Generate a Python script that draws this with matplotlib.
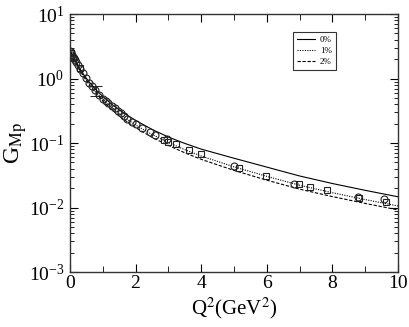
import matplotlib
matplotlib.use("Agg")
import matplotlib.pyplot as plt
from matplotlib.ticker import MultipleLocator, LogLocator, NullFormatter

plt.rcParams['font.family'] = ['Liberation Serif', 'DejaVu Serif']
plt.rcParams['mathtext.fontset'] = 'stix'

# model curves
q2_curve = [0, 0.05, 0.1, 0.2, 0.3, 0.4, 0.5, 0.6, 0.8, 1.0, 1.25, 1.5, 1.75,
            2, 2.5, 3, 3.5, 4, 5, 6, 7, 8, 9, 10]
gmp_0 = [2.79, 2.44, 2.16, 1.73, 1.42, 1.19, 1.01, 0.87, 0.664, 0.528, 0.409,
         0.327, 0.269, 0.225, 0.163, 0.124, 0.0988, 0.0806, 0.0582, 0.0424,
         0.0309, 0.0236, 0.0185, 0.0147]
gmp_1 = [2.79, 2.43, 2.14, 1.70, 1.38, 1.14, 0.96, 0.82, 0.615, 0.48, 0.365,
         0.287, 0.232, 0.191, 0.136, 0.102, 0.0790, 0.0630, 0.0428, 0.0305,
         0.0222, 0.0170, 0.0133, 0.0106]
gmp_2 = [2.79, 2.42, 2.13, 1.68, 1.36, 1.115, 0.93, 0.79, 0.587, 0.451, 0.339,
         0.264, 0.212, 0.174, 0.123, 0.092, 0.0707, 0.0560, 0.0377, 0.0266,
         0.0193, 0.0148, 0.0116, 0.0092]

# data points: circles
q2_circ = [0.0, 0.02, 0.05, 0.08, 0.12, 0.15, 0.2, 0.25, 0.32, 0.39, 0.5, 0.59,
           0.68, 0.76, 0.9, 1.0, 1.1, 1.17, 1.27, 1.37, 1.46, 1.55, 1.65,
           1.75, 1.88, 2.0, 2.2, 2.44, 2.6, 2.95, 5.0, 6.84, 8.77, 9.58]
g_circ = [2.72, 2.6, 2.35, 2.18, 2.05, 1.94, 1.78, 1.62, 1.4, 1.2, 1.02, 0.86,
          0.76, 0.66, 0.56, 0.49, 0.45, 0.42, 0.38, 0.344, 0.315, 0.288, 0.262,
          0.24, 0.215, 0.197, 0.170, 0.148, 0.135, 0.115, 0.044, 0.0229,
          0.0146, 0.0134]

# data points: squares
q2_sq = [0.03, 0.1, 0.3, 2.87, 3.0, 3.22, 3.64, 4.0, 5.16, 5.98, 6.98, 7.33,
         7.84, 8.81, 9.64]
g_sq = [2.5, 2.1, 1.45, 0.111, 0.105, 0.095, 0.078, 0.067, 0.0416, 0.031,
        0.0229, 0.021, 0.0185, 0.0143, 0.0120]

# point with large error bar
q2_err = [0.8]
g_err = [0.64]
g_err_lo = [0.105]
g_err_hi = [0.125]

fig = plt.figure(figsize=(4.09, 3.27), dpi=100)
ax = fig.add_axes([0.171, 0.168, 0.802, 0.789])

ax.plot(q2_curve, gmp_0, color='black', lw=0.8, label='0%')
ax.plot(q2_curve, gmp_1, color='black', lw=0.8, ls=(0, (1, 1.2)), label='1%')
ax.plot(q2_curve, gmp_2, color='black', lw=0.8, ls=(0, (3, 1.5)), label='2%')

ax.errorbar(q2_err, g_err, yerr=[g_err_lo, g_err_hi], fmt='none',
            ecolor='black', elinewidth=0.6, capsize=4, capthick=0.6)
ax.plot(q2_circ, g_circ, 'o', mfc='none', mec='#222222', mew=0.8, ms=5,
        ls='none')
ax.plot(q2_sq, g_sq, 's', mfc='none', mec='#222222', mew=0.8, ms=4.5,
        ls='none')

ax.set_yscale('log')
ax.set_xlim(0, 10)
ax.set_ylim(1e-3, 1e1)
ax.xaxis.set_major_locator(MultipleLocator(2))
ax.xaxis.set_minor_locator(MultipleLocator(1))
ax.yaxis.set_major_locator(LogLocator(base=10, numticks=10))
ax.yaxis.set_minor_locator(LogLocator(base=10, subs=range(2, 10), numticks=20))
ax.yaxis.set_minor_formatter(NullFormatter())
ax.tick_params(which='both', direction='in', top=True, right=True,
               labelsize=14)
ax.tick_params(axis='x', pad=2)
ax.tick_params(axis='y', pad=4)
ax.tick_params(which='major', length=6, width=0.8)
ax.tick_params(which='minor', length=3, width=0.6)
ax.tick_params(axis='x', which='minor', length=4)
for s in ax.spines.values():
    s.set_linewidth(1.0)
    s.set_color('#333333')

ax.set_xlabel(r'Q$^2$(GeV$^2$)', fontsize=15, labelpad=3)
ax.set_ylabel(r'G$_{\rm Mp}$', fontsize=17, labelpad=0)

leg = ax.legend(loc='upper left', bbox_to_anchor=(0.68, 0.93), fontsize=6.5,
                frameon=True, fancybox=False, handlelength=2.0,
                borderaxespad=0, borderpad=0.4, labelspacing=0.3,
                handletextpad=0.6)
leg.get_frame().set_edgecolor('black')
leg.get_frame().set_linewidth(0.8)

fig.savefig('out.png', dpi=100)
